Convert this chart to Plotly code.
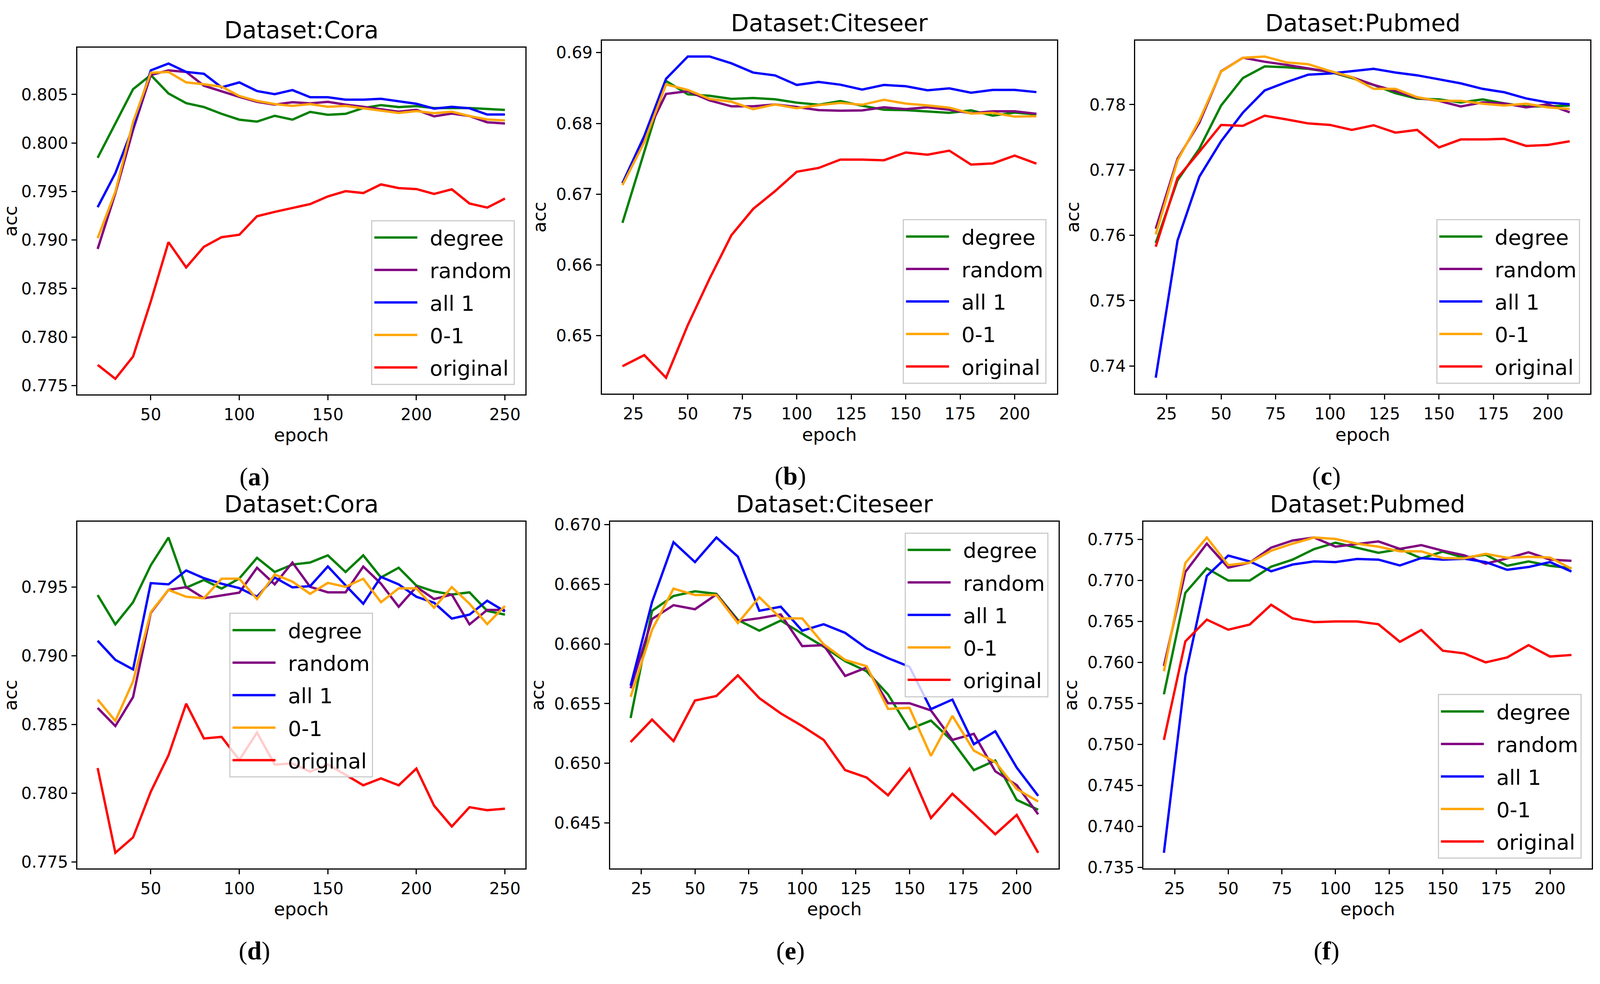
import plotly.graph_objects as go

# epochs
epochs_cora = list(range(20, 251, 10))
epochs_other = list(range(20, 211, 10))

names = ["degree", "random", "all 1", "0-1", "original"]
colors = ["#008000", "#800080", "#0000ff", "#ffa500", "#ff0000"]

# (a) Cora
a_degree = [0.79847, 0.80197, 0.80554, 0.8070, 0.8051, 0.8041, 0.8037, 0.8030, 0.8024, 0.8022, 0.8028, 0.8024,
            0.8032, 0.8029, 0.8030, 0.8036, 0.8039, 0.8037, 0.8038, 0.8036, 0.8036, 0.8036, 0.8035, 0.8034]
a_random = [0.78908, 0.79481, 0.80134, 0.8070, 0.80748, 0.80732, 0.8059, 0.80532, 0.80475, 0.80424, 0.80395, 0.8042,
            0.80408, 0.80424, 0.80395, 0.80373, 0.80347, 0.80322, 0.80341, 0.80274, 0.80303, 0.80277, 0.80213, 0.80201]
a_all1 = [0.79338, 0.79688, 0.80166, 0.80748, 0.80818, 0.80732, 0.80713, 0.80573, 0.80624, 0.80535, 0.80503, 0.80545,
          0.80471, 0.80471, 0.80446, 0.80446, 0.80455, 0.80427, 0.80404, 0.80354, 0.80373, 0.80357, 0.80293, 0.80293]
a_01 = [0.79019, 0.79497, 0.80213, 0.80723, 0.80732, 0.80624, 0.80605, 0.8058, 0.80484, 0.80433, 0.80401, 0.80382,
        0.80401, 0.80373, 0.80382, 0.80357, 0.80338, 0.80309, 0.80328, 0.80306, 0.80322, 0.80277, 0.80242, 0.80232]
a_orig = [0.77713, 0.7757, 0.77799, 0.78366, 0.78978, 0.78717, 0.7893, 0.79029, 0.79054, 0.79245, 0.7929, 0.79328,
          0.7937, 0.79449, 0.79503, 0.79484, 0.79573, 0.79535, 0.79525, 0.79475, 0.79522, 0.79376, 0.79334, 0.79427]

# (b) Citeseer
b_degree = [0.66595, 0.67602, 0.6860, 0.68411, 0.6839, 0.68346, 0.68359, 0.68341, 0.68293, 0.68263,
            0.68315, 0.68249, 0.68193, 0.68188, 0.68171, 0.68149, 0.68184, 0.68109, 0.68153, 0.68127]
b_random = [0.67155, 0.67777, 0.68416, 0.68455, 0.68324, 0.68241, 0.68241, 0.68267, 0.68232, 0.68188,
            0.68179, 0.68184, 0.68228, 0.68201, 0.68228, 0.68193, 0.68144, 0.68171, 0.68171, 0.68136]
b_all1 = [0.67155, 0.67821, 0.6863, 0.68945, 0.68945, 0.68849, 0.68718, 0.68678, 0.68543, 0.68586,
          0.68547, 0.68477, 0.68543, 0.68525, 0.68468, 0.68495, 0.68433, 0.68473, 0.68473, 0.68442]
b_01 = [0.67129, 0.67733, 0.68551, 0.68473, 0.68346, 0.68306, 0.68201, 0.68267, 0.68214, 0.68258,
        0.68289, 0.68263, 0.68333, 0.6828, 0.68254, 0.68223, 0.6814, 0.68149, 0.68096, 0.68101]
b_orig = [0.64569, 0.64726, 0.64407, 0.65151, 0.65807, 0.6642, 0.66792, 0.67042, 0.67317, 0.6737,
          0.67488, 0.67488, 0.67479, 0.67589, 0.67558, 0.67615, 0.67418, 0.67435, 0.67545, 0.67431]

# (c) Pubmed
c_degree = [0.75882, 0.7684, 0.77325, 0.77986, 0.78406, 0.78585, 0.78571, 0.78547, 0.785, 0.78406,
            0.78302, 0.78175, 0.7809, 0.7808, 0.78033, 0.7808, 0.78019, 0.77972, 0.77972, 0.77986]
c_random = [0.7610, 0.7717, 0.77722, 0.7851, 0.78717, 0.78656, 0.78608, 0.78552, 0.785, 0.7842,
            0.78302, 0.78208, 0.78104, 0.78057, 0.77972, 0.78033, 0.78019, 0.77958, 0.78005, 0.77882]
c_all1 = [0.73821, 0.7592, 0.76896, 0.77439, 0.77877, 0.78217, 0.78344, 0.78458, 0.78476, 0.78514,
          0.78547, 0.78491, 0.78448, 0.78387, 0.78325, 0.78241, 0.78189, 0.78094, 0.78033, 0.78005]
c_01 = [0.76014, 0.77146, 0.77759, 0.78505, 0.78717, 0.78736, 0.78646, 0.78618, 0.78514, 0.7842,
        0.78241, 0.78241, 0.78113, 0.78057, 0.78057, 0.78014, 0.77986, 0.78014, 0.77958, 0.77934]
c_orig = [0.75825, 0.76877, 0.77278, 0.77689, 0.77675, 0.7783, 0.77774, 0.77712, 0.77689, 0.77613,
          0.77684, 0.77571, 0.77613, 0.77344, 0.77467, 0.77467, 0.77476, 0.77368, 0.77382, 0.77439]

# (d) Cora
d_degree = [0.79442, 0.79229, 0.7939, 0.79659, 0.79861, 0.79496, 0.79552, 0.79489, 0.79563, 0.79713, 0.7961, 0.79664,
            0.79679, 0.79731, 0.7961, 0.79731, 0.7957, 0.79641, 0.79511, 0.79469, 0.79446, 0.79462, 0.79327, 0.793]
d_random = [0.78621, 0.78489, 0.787, 0.79312, 0.7948, 0.795, 0.79419, 0.79439, 0.7946, 0.79641, 0.7952, 0.79679,
            0.79502, 0.79462, 0.79462, 0.7965, 0.79525, 0.79357, 0.79502, 0.79413, 0.79446, 0.79229, 0.79334, 0.79334]
d_all1 = [0.7911, 0.78971, 0.78901, 0.79529, 0.7952, 0.79621, 0.79565, 0.79525, 0.79493, 0.7943, 0.7957, 0.79498,
          0.79507, 0.7965, 0.79513, 0.79379, 0.79574, 0.7952, 0.7943, 0.79386, 0.79271, 0.793, 0.79401, 0.79323]
d_01 = [0.78682, 0.78527, 0.78814, 0.79318, 0.7948, 0.7943, 0.79419, 0.79561, 0.79561, 0.79413, 0.79592, 0.7954,
        0.79451, 0.79531, 0.79502, 0.79561, 0.7939, 0.79491, 0.79491, 0.7935, 0.795, 0.79379, 0.79231, 0.79363]
d_orig = [0.78184, 0.77567, 0.77679, 0.78011, 0.78276, 0.78652, 0.78399, 0.7841, 0.78242, 0.78442, 0.78209, 0.78217,
          0.78157, 0.78209, 0.78135, 0.78058, 0.78108, 0.78058, 0.7818, 0.7791, 0.77758, 0.77899, 0.77877, 0.77888]

# (e) Citeseer
e_degree = [0.65379, 0.66278, 0.66402, 0.66441, 0.6642, 0.66201, 0.66111, 0.66196, 0.66085, 0.65977,
            0.65856, 0.65771, 0.65577, 0.65286, 0.65358, 0.65186, 0.64943, 0.65023, 0.64693, 0.64611]
e_random = [0.65629, 0.66209, 0.66325, 0.66291, 0.66415, 0.66191, 0.66216, 0.66247, 0.65982, 0.6599,
            0.65732, 0.65802, 0.65503, 0.65503, 0.65443, 0.65196, 0.65247, 0.64933, 0.64817, 0.64572]
e_all1 = [0.6565, 0.66351, 0.66853, 0.66686, 0.66892, 0.66732, 0.66278, 0.66312, 0.66111, 0.66165,
          0.66093, 0.65964, 0.65881, 0.65809, 0.65454, 0.65534, 0.6516, 0.65268, 0.64964, 0.64727]
e_01 = [0.65557, 0.66119, 0.66464, 0.6641, 0.6641, 0.66175, 0.66392, 0.66214, 0.66214, 0.65997,
        0.65866, 0.65814, 0.65456, 0.65464, 0.65062, 0.65397, 0.65106, 0.6501, 0.64784, 0.6468]
e_orig = [0.65178, 0.65366, 0.65186, 0.65526, 0.65564, 0.65737, 0.65546, 0.65418, 0.65312, 0.65196,
          0.64943, 0.64881, 0.64732, 0.64954, 0.64541, 0.64745, 0.64577, 0.64405, 0.64567, 0.6425]

# (f) Pubmed
f_degree = [0.75612, 0.7685, 0.7715, 0.770, 0.770, 0.77169, 0.77255, 0.77383, 0.77462, 0.77402,
            0.77338, 0.77383, 0.7727, 0.77353, 0.77278, 0.77315, 0.7718, 0.77233, 0.7718, 0.7715]
f_random = [0.75957, 0.77105, 0.7745, 0.77158, 0.77218, 0.77402, 0.77488, 0.77525, 0.77413, 0.77443,
            0.77477, 0.77386, 0.77432, 0.77364, 0.77308, 0.77206, 0.7727, 0.77345, 0.77255, 0.7724]
f_all1 = [0.73679, 0.75837, 0.77056, 0.77304, 0.77233, 0.77113, 0.77195, 0.77233, 0.77225, 0.77263,
          0.77255, 0.77184, 0.77274, 0.77255, 0.77266, 0.77225, 0.77131, 0.77165, 0.77225, 0.77109]
f_01 = [0.75893, 0.77214, 0.77525, 0.77188, 0.77218, 0.77364, 0.7745, 0.77525, 0.77507, 0.7745,
        0.77413, 0.77356, 0.77356, 0.77274, 0.7727, 0.77326, 0.77278, 0.77289, 0.77281, 0.77143]
f_orig = [0.75056, 0.76257, 0.76523, 0.764, 0.76463, 0.76704, 0.76538, 0.76493, 0.76501, 0.76501,
          0.76467, 0.76253, 0.76396, 0.76144, 0.76111, 0.76002, 0.76062, 0.76212, 0.76073, 0.76092]

FONT = "DejaVu Sans"

# panel: title, label, epochs, series, ytick step, yformat, xtick step, domains, legend placement
panels = [
    ("Dataset:Cora", "a", epochs_cora, [a_degree, a_random, a_all1, a_01, a_orig], 0.005, ".3f", 50,
     [0.0483, 0.3283], [0.5996, 0.9575], "lr"),
    ("Dataset:Citeseer", "b", epochs_other, [b_degree, b_random, b_all1, b_01, b_orig], 0.01, ".2f", 25,
     [0.3761, 0.6607], [0.6004, 0.9651], "lr"),
    ("Dataset:Pubmed", "c", epochs_other, [c_degree, c_random, c_all1, c_01, c_orig], 0.01, ".2f", 25,
     [0.7094, 0.9940], [0.6004, 0.9651], "lr"),
    ("Dataset:Cora", "d", epochs_cora, [d_degree, d_random, d_all1, d_01, d_orig], 0.005, ".3f", 50,
     [0.0483, 0.3283], [0.1103, 0.4683], "c"),
    ("Dataset:Citeseer", "e", epochs_other, [e_degree, e_random, e_all1, e_01, e_orig], 0.005, ".3f", 25,
     [0.3814, 0.6616], [0.1103, 0.4683], "ur"),
    ("Dataset:Pubmed", "f", epochs_other, [f_degree, f_random, f_all1, f_01, f_orig], 0.005, ".3f", 25,
     [0.7147, 0.9949], [0.1103, 0.4683], "lr"),
]
label_x = [0.159, 0.494, 0.829, 0.159, 0.494, 0.829]

fig = go.Figure()
layout = dict(autosize=True, margin=dict(l=0, r=0, t=0, b=0, pad=0),
              paper_bgcolor="white", plot_bgcolor="white",
              font=dict(family=FONT, color="black"), annotations=[])

for i, (title, lab, ep, series, ystep, yfmt, xstep, xd, yd, loc) in enumerate(panels):
    n = i + 1
    xa = "x" if n == 1 else "x%d" % n
    ya = "y" if n == 1 else "y%d" % n
    lg = "legend" if n == 1 else "legend%d" % n
    for name, col, vals in zip(names, colors, series):
        fig.add_trace(go.Scatter(x=ep, y=vals, name="\u2002" + name, mode="lines",
                                 line=dict(color=col, width=6),
                                 xaxis=xa, yaxis=ya, legend=lg,
                                 legendgroup="%s-%s" % (lab, name)))

    allv = [v for s in series for v in s]
    lo, hi = min(allv), max(allv)
    pad = 0.05 * (hi - lo)
    xlo, xhi = min(ep), max(ep)
    xpad = 0.05 * (xhi - xlo)

    axis_common = dict(showline=True, mirror=True, linecolor="black", linewidth=3,
                       ticks="outside", ticklen=12, tickwidth=2.5, tickcolor="black",
                       showgrid=False, zeroline=False,
                       tickfont=dict(family=FONT, size=42, color="black"))
    layout["xaxis" if n == 1 else "xaxis%d" % n] = dict(
        axis_common, domain=xd, anchor=ya, range=[xlo - xpad, xhi + xpad],
        tick0=0, dtick=xstep,
        title=dict(text="epoch", font=dict(family=FONT, size=46), standoff=14))
    layout["yaxis" if n == 1 else "yaxis%d" % n] = dict(
        axis_common, domain=yd, anchor=xa, range=[lo - pad, hi + pad],
        tick0=0, dtick=ystep, tickformat=yfmt,
        title=dict(text="acc", font=dict(family=FONT, size=46), standoff=12))

    # legend placement
    xw = xd[1] - xd[0]
    yh = yd[1] - yd[0]
    if loc == "lr":
        lx, ly, xan, yan = xd[1] - 0.023 * xw, yd[0] + 0.028 * yh, "right", "bottom"
    elif loc == "ur":
        lx, ly, xan, yan = xd[1] - 0.023 * xw, yd[1] - 0.031 * yh, "right", "top"
    else:
        lx, ly, xan, yan = (xd[0] + xd[1]) / 2, (yd[0] + yd[1]) / 2, "center", "middle"
    layout[lg] = dict(x=lx, y=ly, xanchor=xan, yanchor=yan,
                      bgcolor="rgba(255,255,255,0.8)", bordercolor="#cccccc", borderwidth=3,
                      font=dict(family=FONT, size=54, color="black"),
                      itemwidth=110, traceorder="grouped", tracegroupgap=10)

    layout["annotations"].append(dict(
        text=title, x=(xd[0] + xd[1]) / 2, y=yd[1], xref="paper", yref="paper",
        xanchor="center", yanchor="bottom", yshift=8, showarrow=False,
        font=dict(family=FONT, size=60, color="black")))
    layout["annotations"].append(dict(
        text="(<b>%s</b>)" % lab, x=label_x[i], y=yd[0] - 0.085, xref="paper", yref="paper",
        xanchor="center", yanchor="middle", showarrow=False,
        font=dict(family="Liberation Serif", size=66, color="black")))

fig.update_layout(**layout)

# fill the browser window exactly, without page margins
fit_js = ("document.documentElement.style.margin='0';document.body.style.margin='0';"
          "document.body.style.overflow='hidden';"
          "var gd=document.getElementById('{plot_id}');"
          "gd.style.width='100vw';gd.style.height='100vh';"
          "Plotly.Plots.resize(gd);")
fig.write_html("out.html", default_width="100vw", default_height="100vh",
               config={"responsive": True, "displayModeBar": False}, post_script=fit_js)
